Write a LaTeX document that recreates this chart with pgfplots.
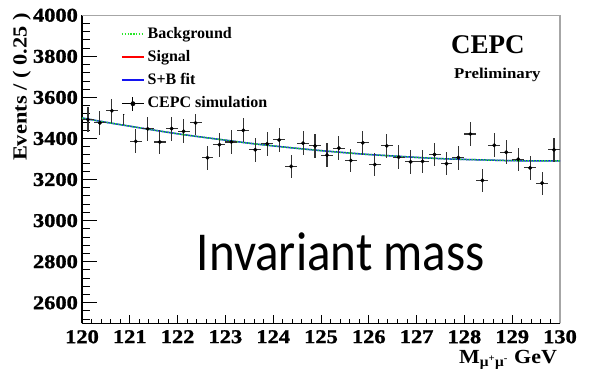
\documentclass[border=0pt]{standalone}
\usepackage{fontspec}
\setmainfont{Liberation Serif}
\newfontfamily\tickfont{Liberation Serif Bold}[FakeBold=1.2]
\newfontfamily\calibri{Carlito}
\usepackage{pgfplots}
\usepackage{pgfplotstable}
\pgfplotsset{compat=1.18}

% legend samples: short line, and point with error cross
\pgfplotsset{
  shortline/.style={legend image code/.code={\draw[##1] (0pt,0pt) -- (22pt,0pt);}},
  datacross/.style={legend image code/.code={%
    \draw[black, line width=1pt] (0pt,0pt) -- (22pt,0pt) (11pt,-7pt) -- (11pt,7pt);
    \fill[black] (11pt,0pt) circle (2.2pt);}},
}

% binned dimuon invariant mass, 0.25 GeV bins: centre, events, stat. error
\pgfplotstableread{
x       y     ey
120.125 3492  59
120.375 3476  59
120.625 3535  59
120.875 3525  59
121.125 3386  58
121.375 3447  59
121.625 3383  58
121.875 3448  59
122.125 3435  59
122.375 3476  59
122.625 3306  58
122.875 3370  58
123.125 3383  58
123.375 3440  59
123.625 3345  58
123.875 3374  58
124.125 3393  58
124.375 3264  57
124.625 3377  58
124.875 3364  58
125.125 3319  58
125.375 3353  58
125.625 3293  57
125.875 3379  58
126.125 3273  57
126.375 3364  58
126.625 3309  58
126.875 3286  57
127.125 3289  57
127.375 3322  58
127.625 3277  57
127.875 3307  58
128.125 3422  58
128.375 3196  57
128.625 3367  58
128.875 3333  58
129.125 3299  57
129.375 3257  57
129.625 3183  56
129.875 3345  58
}\datatable

% fitted background shape (S+B fit coincides with it on this scale)
\pgfplotstableread{
x     y
120.0 3500
120.5 3479
121.0 3460
121.5 3441
122.0 3423
122.5 3407
123.0 3392
123.5 3377
124.0 3364
124.5 3352
125.0 3341
125.5 3331
126.0 3322
126.5 3315
127.0 3308
127.5 3302
128.0 3298
128.5 3295
129.0 3292
129.5 3291
130.0 3291
}\fittable

\definecolor{fitgreen}{RGB}{40,230,40}
\definecolor{fitblue}{RGB}{20,20,240}
\definecolor{sigred}{RGB}{255,0,0}

\begin{document}
\begin{tikzpicture}
\useasboundingbox (-82pt,-52.7pt) rectangle (507pt,323.3pt);
\begin{axis}[
  at={(0pt,0pt)}, anchor=south west,
  scale only axis, width=478pt, height=308pt,
  xmin=120, xmax=130, ymin=2500, ymax=4000,
  axis x line*=bottom, axis y line*=left,
  axis line style={black, line width=1.3pt, -},
  tick align=inside,
  xtick={120,121,...,130},
  xticklabels={120,121,122,123,124,125,126,127,128,129,130},
  ytick={2600,2800,3000,3200,3400,3600,3800,4000},
  yticklabels={2600,2800,3000,3200,3400,3600,3800,4000},
  minor xtick={120.2,120.4,...,129.9},
  minor ytick={2520,2560,...,3990},
  xtick style={black, line width=1pt, /pgfplots/major tick length=8pt, /pgfplots/minor tick length=4pt},
  ytick style={black, line width=1pt, /pgfplots/major tick length=15pt, /pgfplots/minor tick length=7.5pt},
  yticklabel style={font=\tickfont\fontsize{19.5}{21}\selectfont, xscale=1.15,
    inner sep=0pt, xshift=-3.4pt, anchor=east},
  xticklabel style={font=\tickfont\fontsize{19.5}{21}\selectfont, xscale=1.15,
    inner sep=0pt, yshift=-6.7pt, anchor=north},
  ylabel={Events / ( 0.25 )},
  every axis y label/.style={at={(axis description cs:-0.1157,1.0065)}, rotate=90, anchor=base east,
    font=\fontsize{20}{22}\selectfont\bfseries, xscale=1.12, inner sep=0pt},
  xlabel={M\textsubscript{μ\textsuperscript{+}μ\textsuperscript{-}} GeV},
  every axis x label/.style={at={(axis description cs:0.994,-0.129)}, anchor=base east,
    font=\fontsize{20}{22}\selectfont\bfseries, xscale=1.1, inner sep=0pt},
  legend style={at={(rel axis cs:0.0753,0.9718)}, anchor=north west, draw=none, fill=white,
    inner sep=3pt, font=\fontsize{16}{18}\selectfont\bfseries, row sep=9pt, column sep=3pt,
    nodes={inner sep=0pt, text height=11pt, text depth=3pt}},
  legend cell align=left,
  clip=false,
]
% frame on the top and right
\draw[black!35, line width=1.3pt] (rel axis cs:0,1) -- (rel axis cs:1,1) -- (rel axis cs:1,0);

\addplot[fitblue, line width=1.5pt, smooth, forget plot] table[x=x, y=y] {\fittable};
\addplot[fitgreen, line width=1.5pt, smooth, dash pattern=on 1.4pt off 1.4pt, shortline]
  table[x=x, y=y] {\fittable};
\addlegendentry{Background}
\addlegendimage{sigred, line width=1.5pt, shortline}
\addlegendentry{Signal}
\addlegendimage{fitblue, line width=1.5pt, shortline}
\addlegendentry{S+B fit}

\addplot[black, only marks, mark=*, mark size=1.8pt, datacross,
  error bars/.cd, y dir=both, y explicit, x dir=both, x fixed=0.125, error mark=none,
  error bar style={line width=1.1pt, black!80}]
  table[x=x, y=y, y error=ey] {\datatable};
\addlegendentry{CEPC simulation}

\node[font=\fontsize{27}{30}\selectfont\bfseries, anchor=base] at (axis cs:128.49,3812) {CEPC};
\node[font=\fontsize{15}{17}\selectfont\bfseries, anchor=base, xscale=1.12] at (axis cs:128.69,3691) {Preliminary};
\node[font=\calibri\fontsize{49}{55}\selectfont, anchor=base, yscale=1.12] at (axis cs:125.41,2759) {Invariant mass};
\end{axis}
\end{tikzpicture}
\end{document}
